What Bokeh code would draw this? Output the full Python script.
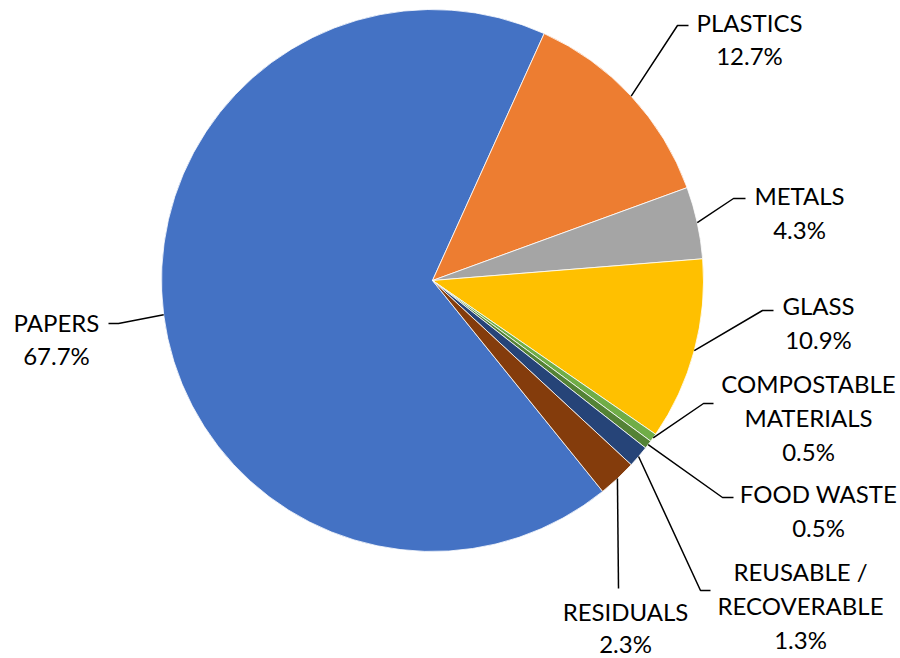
import math
from bokeh.plotting import figure
from bokeh.models import Range1d
from bokeh.core.properties import value
from bokeh.embed import file_html
from bokeh.resources import INLINE

# ---- data ----
categories = ["PAPERS", "PLASTICS", "METALS", "GLASS",
              "COMPOSTABLE MATERIALS", "FOOD WASTE",
              "REUSABLE / RECOVERABLE", "RESIDUALS"]
label_lines = [["PAPERS"], ["PLASTICS"], ["METALS"], ["GLASS"],
               ["COMPOSTABLE", "MATERIALS"], ["FOOD WASTE"],
               ["REUSABLE /", "RECOVERABLE"], ["RESIDUALS"]]
percentages = [67.7, 12.7, 4.3, 10.9, 0.5, 0.5, 1.3, 2.3]
colors = ["#4472C4", "#ED7D31", "#A5A5A5", "#FFC000",
          "#70AD47", "#548235", "#264478", "#843C0C"]

# ---- layout (pixel coords, y down) ----
W, H = 900, 658
CX, CY, R = 432, 280, 271
FIRST_ANGLE = 141.1          # clockwise from 12 o'clock
LINE_GAP = 34
FONT = "Lato"
FSIZE = "24px"
# label first-line centre, leader elbow, leader end
label_pos = [(56, 322), (749, 22), (799, 195), (818, 305),
             (808, 383), (818, 493), (800, 571), (625, 611)]
line_gaps = [33, 33, 34, 34, 34, 34, 34, 32]
elbows = [(118, 323), (677, 25), (733, 198), (762, 310),
          (703, 403), (722, 497), (700, 590), (618, 588)]
ends = [(108, 323), (688, 25), (745, 198), (773, 310),
        (713, 403), (733, 497), (710, 590), (618, 588)]


def fy(y):
    return H - y


p = figure(width=W, height=H, output_backend="svg", toolbar_location=None,
           x_range=Range1d(0, W), y_range=Range1d(0, H), min_border=0)
p.axis.visible = False
p.xgrid.visible = False
p.ygrid.visible = False
p.outline_line_color = None
p.background_fill_color = "white"
p.border_fill_color = "white"

total = sum(percentages)
theta = FIRST_ANGLE
starts, stops, mids = [], [], []
for v in percentages:
    span = v / total * 360.0
    starts.append(math.radians(90 - theta))
    stops.append(math.radians(90 - (theta + span)))
    mids.append(theta + span / 2)
    theta += span

p.wedge(x=[CX] * len(percentages), y=[fy(CY)] * len(percentages), radius=R,
        start_angle=starts, end_angle=stops, direction="clock",
        fill_color=colors, line_color="white", line_width=0.8)

# leader lines
for i, m in enumerate(mids):
    sx = CX + R * math.sin(math.radians(m))
    sy = CY - R * math.cos(math.radians(m))
    xs = [sx, elbows[i][0], ends[i][0]]
    ys = [fy(sy), fy(elbows[i][1]), fy(ends[i][1])]
    p.line(xs, ys, line_color="black", line_width=1.5)

# labels
tx, ty, tt = [], [], []
for i, lines in enumerate(label_lines):
    allines = lines + [f"{percentages[i]}%"]
    x0, y0 = label_pos[i]
    for k, t in enumerate(allines):
        tx.append(x0)
        ty.append(fy(y0 + k * line_gaps[i]))
        tt.append(t)
p.text(x=tx, y=ty, text=tt, text_font=value(FONT), text_font_size=FSIZE,
       text_align="center", text_baseline="middle", text_color="black")

open("out.html", "w").write(file_html(p, INLINE))
